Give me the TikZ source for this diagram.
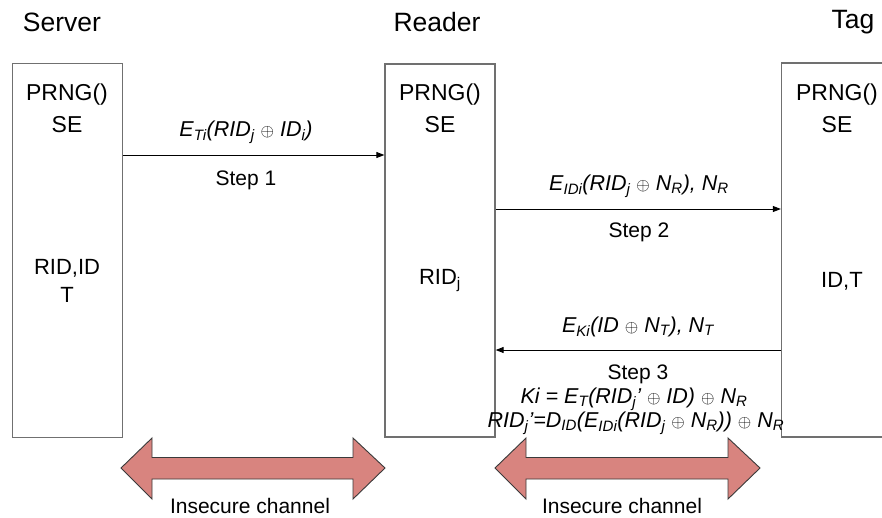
\documentclass[tikz,border=0pt]{standalone}
\usepackage{fontspec}
\setmainfont{Liberation Sans}
\usetikzlibrary{arrows.meta}
\newcommand\sbs[1]{\textsubscript{#1}}
\newcommand\xo{{\fontsize{17}{17}\selectfont$\oplus$}}
\definecolor{boxgray}{HTML}{707070}
\definecolor{chanfill}{HTML}{D8847F}
\definecolor{chanline}{HTML}{3A3A3A}
\tikzset{
  entity/.style={draw=boxgray, line width=1.3pt, inner sep=0pt},
  title/.style={font=\fontsize{26.5}{28}\selectfont, inner sep=0pt},
  boxtext/.style={font=\fontsize{23}{25}\selectfont, inner sep=0pt},
  memtext/.style={font=\fontsize{22}{24}\selectfont, inner sep=0pt},
  msg/.style={font=\fontsize{21.5}{23}\selectfont\itshape, inner sep=0pt},
  steptext/.style={font=\fontsize{21}{23}\selectfont, inner sep=0pt},
  flow/.style={line width=0.9pt, -{Triangle[length=8pt,width=6pt]}},
  chan/.style={fill=chanfill, draw=chanline, line width=0.9pt, line join=miter},
  chantext/.style={font=\fontsize{21}{23}\selectfont, inner sep=0pt}
}
\begin{document}
\begin{tikzpicture}[x=1pt,y=-1pt]
\useasboundingbox[fill=white] (0,0) rectangle (882,517);
% entity boxes
\node[entity, minimum width=110pt, minimum height=374pt] (server) at (67.5,250.5) {};
\node[entity, minimum width=110pt, minimum height=373pt] (reader) at (440,250.5) {};
\node[entity, minimum width=120pt, minimum height=374pt] (tag) at (841.5,250) {};
% titles
\node[title] (tserver) at (62,22) {Server};
\node[title] (treader) at (437,22) {Reader};
\node[title] (ttag) at (853,22) {Tag};
% box contents
\node[boxtext] (sp) at (67,95) {PRNG()};
\node[boxtext] (sse) at (67,125) {SE};
\node[memtext] (srid) at (67,268) {RID,ID};
\node[memtext] (st) at (67,295) {T};
\node[boxtext] (rp) at (440,95) {PRNG()};
\node[boxtext] (rse) at (440,125) {SE};
\node[memtext] (rrid) at (440,281) {RID\sbs{j}};
\node[boxtext] (tp) at (837,95) {PRNG()};
\node[boxtext] (tse) at (837,125) {SE};
\node[memtext] (tid) at (842,281) {ID,T};
% message rows
\coordinate (y1) at (0,155);
\coordinate (y2) at (0,209);
\coordinate (y3) at (0,350);
\draw[flow] (server.east |- y1) -- (reader.west |- y1);
\draw[flow] (reader.east |- y2) -- (tag.west |- y2);
\draw[flow] (tag.west |- y3) -- (reader.east |- y3);
\node[msg] (m1) at (246,132) {E\sbs{Ti}(RID\sbs{j} \xo{} ID\sbs{i})};
\node[steptext] (s1) at (246,180) {Step 1};
\node[msg] (m2) at (639,186) {E\sbs{IDi}(RID\sbs{j} \xo{} N\sbs{R}), N\sbs{R}};
\node[steptext] (s2) at (639,232) {Step 2};
\node[msg] (m3) at (638,327) {E\sbs{Ki}(ID \xo{} N\sbs{T}), N\sbs{T}};
\node[steptext] (s3) at (638,374) {Step 3};
\node[msg] (k1) at (634,399) {Ki = E\sbs{T}(RID\sbs{j}' \xo{} ID) \xo{} N\sbs{R}};
\node[msg] (k2) at (636,423) {RID\sbs{j}'=D\sbs{ID}(E\sbs{IDi}(RID\sbs{j} \xo{} N\sbs{R})) \xo{} N\sbs{R}};
% insecure channels
\draw[chan] (121,468) -- (152,438) -- (152,457.5) -- (353,457.5) -- (353,438) -- (385,468)
  -- (353,499) -- (353,479) -- (152,479) -- (152,499) -- cycle;
\draw[chan] (495,468) -- (526,438) -- (526,457.5) -- (728,457.5) -- (728,438) -- (760,468)
  -- (728,499) -- (728,479) -- (526,479) -- (526,499) -- cycle;
\node[chantext] (c1) at (250,506) {Insecure channel};
\node[chantext] (c2) at (622,506) {Insecure channel};
\end{tikzpicture}
\end{document}
